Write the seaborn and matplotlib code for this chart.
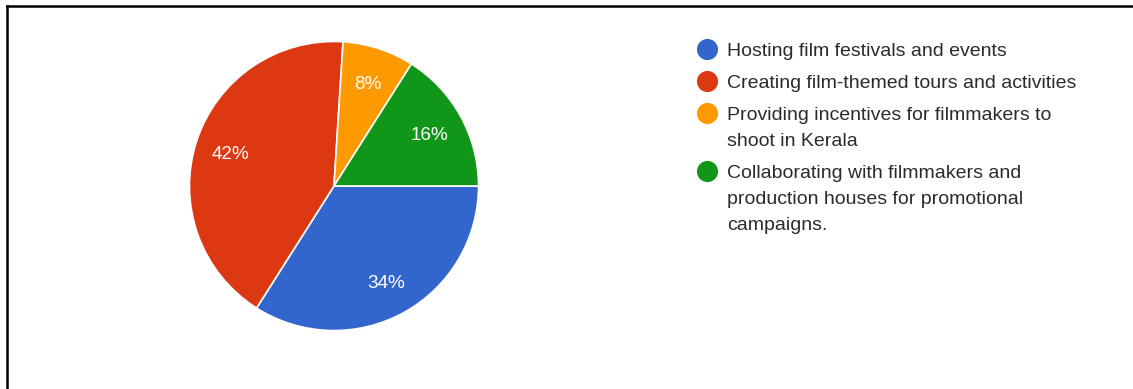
import matplotlib
matplotlib.use("Agg")
import matplotlib.pyplot as plt
from matplotlib.lines import Line2D
import seaborn as sns

# Survey responses: ways to promote film tourism in Kerala
categories = [
    "Hosting film festivals and events",
    "Creating film-themed tours and activities",
    "Providing incentives for filmmakers to\nshoot in Kerala",
    "Collaborating with filmmakers and\nproduction houses for promotional\ncampaigns.",
]
shares = [34, 42, 8, 16]
colors = ["#3366CC", "#DC3912", "#FF9900", "#109618"]

sns.set_theme(style="white")
plt.rcParams["font.family"] = ["Liberation Sans", "DejaVu Sans"]

W, H, DPI = 1133, 389, 100
fig = plt.figure(figsize=(W / DPI, H / DPI), dpi=DPI)
fig.patch.set_facecolor("white")

# pie placed by pixel geometry: centre (334, 186 from top), radius 146
cx, cy, r = 334, H - 186, 146
ax = fig.add_axes([(cx - r) / W, (cy - r) / H, 2 * r / W, 2 * r / H])
palette = sns.color_palette(colors)
wedges, texts, autotexts = ax.pie(
    shares,
    colors=palette,
    startangle=0,
    counterclock=False,
    autopct="%d%%",
    pctdistance=0.75,
    wedgeprops=dict(edgecolor="white", linewidth=1.2),
    textprops=dict(color="white", fontsize=13.6),
    radius=1,
)
for t in autotexts:
    t.set_verticalalignment("center_baseline")
ax.set_xlim(-1.01, 1.01)
ax.set_ylim(-1.01, 1.01)
ax.set_aspect("equal")
ax.axis("off")

# legend drawn as marker + wrapped text, aligned with first line
leg_x_marker = 707
leg_x_text = 727
line_step = 26
entry_gap = 32
y = 49  # centre of first line (px from top)
for label, col in zip(categories, colors):
    lines = label.split("\n")
    fig.add_artist(Line2D([leg_x_marker / W], [(H - y) / H], marker="o",
                          markersize=14.2, color=col, linestyle="none",
                          transform=fig.transFigure))
    for k, ln in enumerate(lines):
        yy = y + k * line_step
        fig.text(leg_x_text / W, (H - yy - 6.5) / H, ln, ha="left",
                 va="baseline", fontsize=14.0, color="#2b2b2b")
    y += (len(lines) - 1) * line_step + entry_gap

# frame lines along the left and top edges
fig.add_artist(Line2D([7 / W, 7 / W], [0, (H - 6) / H], color="black",
                      linewidth=1.8, transform=fig.transFigure,
                      solid_capstyle="projecting"))
fig.add_artist(Line2D([7 / W, 1], [(H - 6) / H, (H - 6) / H], color="black",
                      linewidth=1.8, transform=fig.transFigure,
                      solid_capstyle="projecting"))

fig.savefig("out.png", dpi=DPI, facecolor="white")
